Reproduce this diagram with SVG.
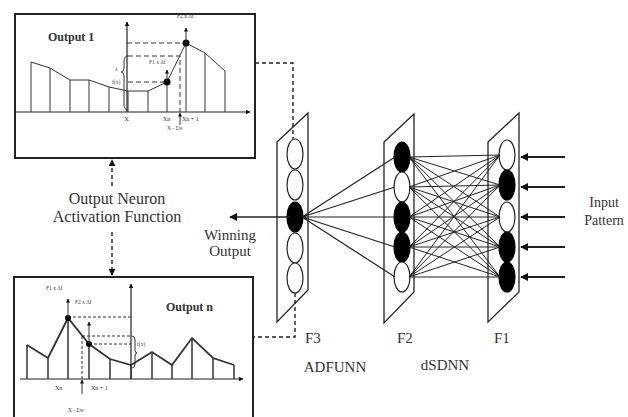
<svg xmlns="http://www.w3.org/2000/svg" width="628" height="417" viewBox="0 0 628 417">
<style>
.box{fill:#fff;stroke:#222;stroke-width:2}
.ax{stroke:#222;stroke-width:1.2;fill:none}
.bar{stroke:#333;stroke-width:1;fill:none}
.dash{stroke:#333;stroke-width:1;fill:none;stroke-dasharray:5 3}
.dash2{stroke:#222;stroke-width:1.4;fill:none;stroke-dasharray:4 3}
.lay{fill:#fff;stroke:#222;stroke-width:1.3}
.on{fill:#000;stroke:#000;stroke-width:1.2}
.off{fill:#fff;stroke:#222;stroke-width:1.2}
.ln{stroke:#222;stroke-width:1.2;fill:none}
.t{font-family:"Liberation Serif",serif;fill:#333}
.tiny{font-family:"Liberation Serif",serif;fill:#444;font-size:5.5px}
</style>
<defs>
<marker id="ah" viewBox="0 0 10 10" refX="9" refY="5" markerWidth="5" markerHeight="5" orient="auto-start-reverse"><path d="M0,0L10,5L0,10z" fill="#111"/></marker>
<marker id="as" viewBox="0 0 10 10" refX="9" refY="5" markerWidth="4" markerHeight="4" orient="auto-start-reverse"><path d="M0,0L10,5L0,10z" fill="#111"/></marker>
</defs>
<rect width="628" height="417" fill="#fff"/>

<g id="output1">
<rect class="box" x="15" y="14" width="240" height="144"/>
<text class="t" x="48" y="41" font-size="12" font-weight="bold" fill="#111">Output 1</text>
<line class="ax" x1="15" y1="112" x2="250" y2="112" marker-end="url(#as)"/>
<line class="ax" x1="127" y1="112" x2="127" y2="22" marker-end="url(#as)"/>
<polyline class="bar" points="31,62 50,68 70,80 89,80 109,87 128,91 148,91 167,82 186,43 205,53 225,71"/>
<path class="bar" d="M31,62V112M50,68V112M70,80V112M89,80V112M109,87V112M128,91V112M148,91V112M167,82V112M186,43V112M205,53V112M225,71V112"/>
<path class="dash" d="M127,43H186M128,56H180V112M128,82H167"/>
<circle cx="167" cy="82" r="3.5" fill="#000"/>
<circle cx="186" cy="43" r="3.5" fill="#000"/>
<line class="bar" x1="167" y1="82" x2="167" y2="70" marker-end="url(#as)"/>
<line class="bar" x1="186" y1="43" x2="186" y2="28" marker-end="url(#as)"/>
<path class="bar" d="M128,56Q124,56 124,62V68Q124,72 121,72Q124,72 124,76V104Q124,110 128,110"/>
<text class="tiny" x="115" y="71">λ</text>
<text class="tiny" x="112" y="84">f(x)</text>
<text class="tiny" x="149" y="64">F1 x Δf</text>
<text class="tiny" x="177" y="18">F2 x Δf</text>
<text class="t" x="124" y="121" font-size="7">X</text>
<text class="t" x="163" y="121" font-size="6">Xn</text>
<text class="t" x="182" y="121" font-size="6">Xn + 1</text>
<line class="bar" x1="180" y1="125" x2="180" y2="113" marker-end="url(#as)"/>
<text class="tiny" x="167" y="130">X - Σw</text>
</g>

<g id="outputn">
<rect class="box" x="14" y="277" width="239" height="150"/>
<text class="t" x="166" y="311" font-size="12" font-weight="bold" fill="#111">Output n</text>
<line class="ax" x1="20" y1="379" x2="243" y2="379" marker-end="url(#as)"/>
<line class="ax" x1="131" y1="379" x2="131" y2="284" marker-end="url(#as)"/>
<polyline class="bar" style="stroke-width:1.8" points="27,345 48,358 68,318 89,344 110,359 131,365 152,352 172,365 192,338 213,358 234,365"/>
<path class="bar" style="stroke-width:1.5" d="M27,345V379M48,358V379M68,318V379M89,344V379M110,359V379M131,365V379M152,352V379M172,365V379M192,338V379M213,358V379M234,365V379"/>
<path class="dash" style="stroke-dasharray:3 2" d="M68,317H131M82,336H131M89,344H131M82,336V379"/>
<circle cx="68" cy="318" r="3" fill="#000"/>
<circle cx="89" cy="344" r="3" fill="#000"/>
<line class="bar" x1="68" y1="318" x2="68" y2="299" marker-end="url(#as)"/>
<line class="bar" x1="89" y1="344" x2="89" y2="322" marker-end="url(#as)"/>
<line class="bar" x1="82" y1="394" x2="82" y2="380" marker-end="url(#as)"/>
<path class="bar" d="M132,336Q135,336 135,340V350Q135,353 137,353Q135,353 135,356V364Q135,368 132,368"/>
<text class="tiny" x="137" y="346">f(x)</text>
<text class="tiny" x="46" y="290">F1 x Δf</text>
<text class="tiny" x="75" y="304">F2 x Δf</text>
<text class="t" x="55" y="390" font-size="6">Xn</text>
<text class="t" x="91" y="390" font-size="6">Xn + 1</text>
<text class="tiny" x="68" y="412">X - Σw</text>
</g>

<g id="label-activation">
<text class="t" x="117" y="204" font-size="16" text-anchor="middle">Output Neuron</text>
<text class="t" x="117" y="222" font-size="16" text-anchor="middle">Activation Function</text>
</g>

<g id="layer-f3">
<polygon class="lay" points="277,142 308,113 308,290 277,322"/>
<ellipse class="off" cx="295" cy="154" rx="8" ry="15"/>
<ellipse class="off" cx="295" cy="185" rx="8" ry="15"/>
<ellipse class="on" cx="295" cy="217" rx="8" ry="15"/>
<ellipse class="off" cx="295" cy="248" rx="8" ry="15"/>
<ellipse class="off" cx="295" cy="278" rx="8" ry="15"/>
<text class="t" x="305" y="343" font-size="15">F3</text>
<text class="t" x="335" y="372" font-size="15" text-anchor="middle">ADFUNN</text>
</g>

<g id="layer-f2">
<polygon class="lay" points="384,142 414,114 414,292 384,323"/>
<ellipse class="on" cx="402" cy="157" rx="8" ry="15"/>
<ellipse class="off" cx="402" cy="187" rx="8" ry="15"/>
<ellipse class="on" cx="402" cy="217" rx="8" ry="15"/>
<ellipse class="on" cx="402" cy="247" rx="8" ry="15"/>
<ellipse class="off" cx="402" cy="277" rx="8" ry="15"/>
<text class="t" x="397" y="343" font-size="15">F2</text>
<text class="t" x="445" y="370" font-size="15" text-anchor="middle">dSDNN</text>
</g>

<g id="layer-f1">
<polygon class="lay" points="488,142 519,113 519,292 488,322"/>
<ellipse class="off" cx="507" cy="155" rx="8" ry="15"/>
<ellipse class="on" cx="507" cy="185" rx="8" ry="15"/>
<ellipse class="off" cx="507" cy="217" rx="8" ry="15"/>
<ellipse class="on" cx="507" cy="247" rx="8" ry="15"/>
<ellipse class="on" cx="507" cy="277" rx="8" ry="15"/>
<text class="t" x="494" y="343" font-size="15">F1</text>
</g>

<g id="label-input">
<text class="t" x="604" y="207" font-size="14" text-anchor="middle">Input</text>
<text class="t" x="604" y="225" font-size="14" text-anchor="middle">Pattern</text>
</g>

<g id="label-winning">
<text class="t" x="230" y="240" font-size="15" text-anchor="middle">Winning</text>
<text class="t" x="230" y="256" font-size="15" text-anchor="middle">Output</text>
</g>

<g id="connectors">
<line class="dash2" x1="112" y1="186" x2="112" y2="160" marker-end="url(#ah)"/>
<line class="dash2" x1="112" y1="232" x2="112" y2="275" marker-end="url(#ah)"/>
<path class="dash2" d="M255,63H293V139"/>
<path class="dash2" d="M295,293V337H253"/>
<line class="ln" style="stroke-width:1.6" x1="290" y1="217" x2="230" y2="217" marker-end="url(#ah)"/>
<path class="ln" d="M302,217L395,157M302,217L395,187M302,217L395,217M302,217L395,247M302,217L395,277"/>
<path class="ln" style="stroke-width:1" d="M409,157L500,155M409,157L500,185M409,157L500,217M409,157L500,247M409,157L500,277
M409,187L500,155M409,187L500,185M409,187L500,217M409,187L500,247M409,187L500,277
M409,217L500,155M409,217L500,185M409,217L500,217M409,217L500,247M409,217L500,277
M409,247L500,155M409,247L500,185M409,247L500,217M409,247L500,247M409,247L500,277
M409,277L500,155M409,277L500,185M409,277L500,217M409,277L500,247M409,277L500,277"/>
<g class="ln" style="stroke-width:2">
<line x1="565" y1="157" x2="521" y2="157" marker-end="url(#as)"/>
<line x1="565" y1="187" x2="521" y2="187" marker-end="url(#as)"/>
<line x1="565" y1="217" x2="521" y2="217" marker-end="url(#as)"/>
<line x1="565" y1="247" x2="521" y2="247" marker-end="url(#as)"/>
<line x1="565" y1="277" x2="521" y2="277" marker-end="url(#as)"/>
</g>
</g>
</svg>
